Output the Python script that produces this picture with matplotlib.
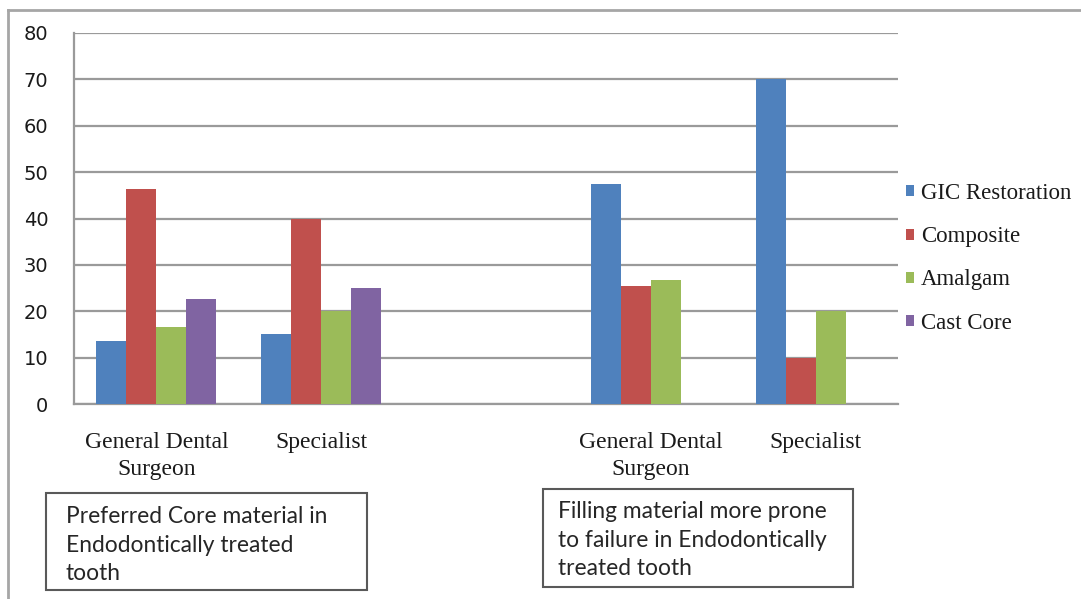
import matplotlib
matplotlib.use("Agg")
import matplotlib.pyplot as plt
from matplotlib.patches import Rectangle, Patch
from matplotlib.lines import Line2D
import numpy as np

# Survey responses (%), two questions side by side with a spacer slot between them
categories = ["General Dental\nSurgeon", "Specialist", "", "General Dental\nSurgeon", "Specialist"]
gic_restoration = [13.6, 15.0, 0.0, 47.4, 70.0]
composite = [46.4, 40.0, 0.0, 25.4, 10.0]
amalgam = [16.7, 20.0, 0.0, 26.7, 20.0]
cast_core = [22.7, 25.0, 0.0, 0.0, 0.0]

series_names = ["GIC Restoration", "Composite", "Amalgam", "Cast Core"]
series_values = [gic_restoration, composite, amalgam, cast_core]
colors = ["#4F81BD", "#C0504D", "#9BBB59", "#8064A2"]

note_left = "Preferred Core material in\nEndodontically treated\ntooth"
note_right = "Filling material more prone\nto failure in Endodontically\ntreated tooth"

W, H = 1081, 599
fig = plt.figure(figsize=(W / 100, H / 100), dpi=100)
fig.patch.set_facecolor("white")

def fx(px):
    return px / W

def fy(py):
    return 1 - py / H

ax = fig.add_axes([fx(74), fy(404), fx(898) - fx(74), fy(33) - fy(404)])

x = np.arange(len(categories))
width = 1 / (len(series_names) + 1.5)
for i, (name, vals, col) in enumerate(zip(series_names, series_values, colors)):
    offset = (i - 1.5) * width
    ax.bar(x + offset, vals, width, color=col, label=name, zorder=3, linewidth=0)

ax.set_xlim(-0.5, len(categories) - 0.5)
ax.set_ylim(0, 80)
ax.set_yticks(range(0, 81, 10))
ax.yaxis.grid(True, color="#9a9a9a", linewidth=1.6, zorder=0)
ax.set_axisbelow(True)

for side in ["top", "right"]:
    ax.spines[side].set_visible(False)
for side in ["left", "bottom"]:
    ax.spines[side].set_color("#9a9a9a")
    ax.spines[side].set_linewidth(1.6)

ax.tick_params(axis="y", length=0, pad=18.5, labelsize=14, labelcolor="#1a1a1a")
for lbl in ax.get_yticklabels():
    lbl.set_fontfamily("DejaVu Sans")
ax.set_xticks(x)
ax.set_xticklabels(categories, fontfamily="Liberation Serif", fontsize=17,
                   color="#1a1a1a", linespacing=1.4)
ax.tick_params(axis="x", length=0, pad=20)

# Legend at the right of the plot area
handles = [Patch(facecolor=c, edgecolor="none") for c in colors]
leg = fig.legend(handles, series_names, loc="upper left",
                 bbox_to_anchor=(fx(906), fy(183)),
                 frameon=False, prop={"family": "Liberation Serif", "size": 16.5},
                 handlelength=0.36, handleheight=0.36, handletextpad=0.3,
                 labelspacing=0.97, borderaxespad=0, borderpad=0)
for t in leg.get_texts():
    t.set_color("#1a1a1a")

# Outer chart frame (left and top edges)
fig.add_artist(Line2D([fx(8), fx(8)], [fy(10), 0], transform=fig.transFigure,
                      color="#a6a6a6", linewidth=2))
fig.add_artist(Line2D([fx(8), 1], [fy(10), fy(10)], transform=fig.transFigure,
                      color="#a6a6a6", linewidth=2))

# Annotation boxes under each group
def note_box(x0, y0, x1, y1, text, tx, ty):
    fig.add_artist(Rectangle((fx(x0), fy(y1)), fx(x1) - fx(x0), fy(y0) - fy(y1),
                             transform=fig.transFigure, facecolor="white",
                             edgecolor="#595959", linewidth=1.5))
    fig.text(fx(tx), fy(ty), text, ha="left", va="top", fontfamily="Lato",
             fontsize=16.4, color="#262626", linespacing=1.45)

note_box(46, 493, 367, 590, note_left, 66, 506)
note_box(543, 489, 853, 587, note_right, 558, 501)

fig.savefig("out.png", dpi=100, facecolor="white")
